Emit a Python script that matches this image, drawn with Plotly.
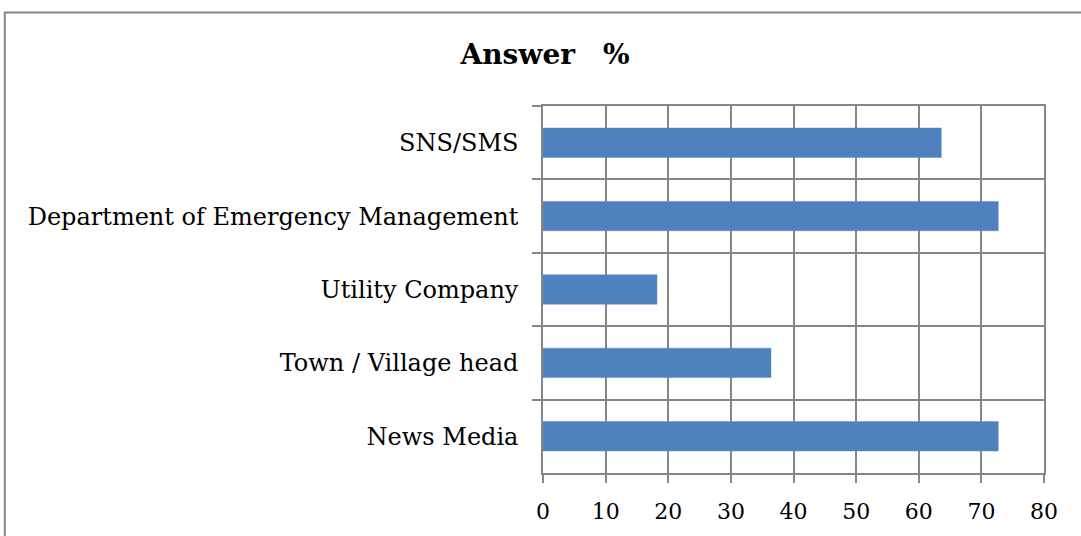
import plotly.graph_objects as go

categories = ["SNS/SMS", "Department of Emergency Management", "Utility Company",
              "Town / Village head", "News Media"]
values = [63.6, 72.7, 18.2, 36.4, 72.7]
x_ticks = [0, 10, 20, 30, 40, 50, 60, 70, 80]

W, H = 1081, 536
L, R, T, B = 542.7, 1043.7, 105.7, 475.7
pw, ph = R - L, B - T

def px(x):
    return (x - L) / pw

def py(y):
    return (B - y) / ph

font_family = "DejaVu Serif"
grid_col = "#868686"

fig = go.Figure(go.Bar(
    x=values, y=categories, orientation="h",
    marker=dict(color="#4F81BD", line=dict(color="#5a8ac4", width=0.5)),
    width=0.4,
))

fig.update_layout(
    width=W, height=H,
    margin=dict(l=L, r=W - R, t=T, b=H - B, pad=0),
    paper_bgcolor="white", plot_bgcolor="white",
    showlegend=False,
    title=dict(text="<b>Answer　%</b>", xref="container", x=545 / W, xanchor="center",
               yref="container", y=1 - 54 / H, yanchor="middle",
               font=dict(family=font_family, size=28, color="black")),
    font=dict(family=font_family, size=22, color="black"),
    xaxis=dict(range=[0, 80], tickvals=x_ticks, showgrid=True, gridcolor=grid_col,
               gridwidth=1.5, ticks="outside", ticklen=8, tickwidth=1.5, tickcolor=grid_col,
               showline=True, linecolor=grid_col, linewidth=1.5, zeroline=False,
               ticklabelstandoff=10, mirror=True,
               tickfont=dict(family=font_family, size=22, color="black")),
    yaxis=dict(categoryorder="array", categoryarray=categories, autorange="reversed",
               tickson="boundaries", showgrid=True, gridcolor=grid_col, gridwidth=1.5,
               ticks="outside", ticklen=9, tickwidth=1.5, tickcolor=grid_col,
               showline=True, linecolor=grid_col, linewidth=1.5, mirror=True,
               ticklabelstandoff=18,
               tickfont=dict(family=font_family, size=24, color="black")),
    shapes=[dict(type="rect", xref="paper", yref="paper",
                 x0=px(4.5), x1=px(1090), y0=py(545), y1=py(11.5),
                 line=dict(color="#888888", width=2), fillcolor="rgba(0,0,0,0)",
                 layer="below")],
)

fig.write_html("out.html", config={"displayModeBar": False},
               post_script="document.body.style.margin='0';document.body.style.overflow='hidden';")
